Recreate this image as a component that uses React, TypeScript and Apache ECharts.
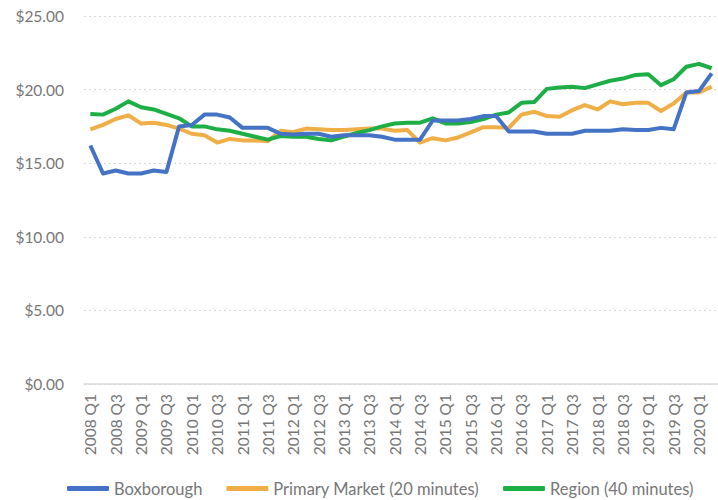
import React, { useEffect, useRef } from "react";
import * as echarts from "echarts";

const years = [2008, 2009, 2010, 2011, 2012, 2013, 2014, 2015, 2016, 2017, 2018, 2019, 2020];
const categories: string[] = [];
years.forEach((y) => ["Q1", "Q2", "Q3", "Q4"].forEach((q) => categories.push(`${y} ${q}`)));
categories.splice(50);

const boxborough = [
  16.2, 14.3, 14.5, 14.3, 14.3, 14.5, 14.4, 17.5, 17.6, 18.3,
  18.3, 18.1, 17.4, 17.4, 17.4, 17.0, 16.95, 17.0, 17.0, 16.8,
  16.9, 16.9, 16.9, 16.8, 16.6, 16.6, 16.6, 17.9, 17.9, 17.9,
  18.0, 18.2, 18.2, 17.15, 17.15, 17.15, 17.0, 17.0, 17.0, 17.2,
  17.2, 17.2, 17.3, 17.25, 17.25, 17.4, 17.3, 19.8, 19.9, 21.1,
];
const primaryMarket = [
  17.3, 17.6, 18.0, 18.25, 17.7, 17.75, 17.6, 17.35, 17.0, 16.9,
  16.4, 16.65, 16.55, 16.55, 16.5, 17.2, 17.1, 17.35, 17.3, 17.25,
  17.25, 17.3, 17.35, 17.35, 17.2, 17.25, 16.4, 16.7, 16.55, 16.75,
  17.1, 17.45, 17.45, 17.4, 18.3, 18.5, 18.2, 18.15, 18.6, 18.95,
  18.65, 19.2, 19.0, 19.1, 19.1, 18.55, 19.05, 19.8, 19.8, 20.2,
];
const region = [
  18.35, 18.3, 18.7, 19.2, 18.8, 18.65, 18.35, 18.05, 17.5, 17.5,
  17.3, 17.2, 17.0, 16.8, 16.6, 16.85, 16.8, 16.8, 16.65, 16.55,
  16.8, 17.05, 17.25, 17.5, 17.7, 17.75, 17.75, 18.05, 17.7, 17.7,
  17.8, 18.0, 18.3, 18.45, 19.1, 19.15, 20.05, 20.15, 20.2, 20.1,
  20.35, 20.6, 20.75, 21.0, 21.05, 20.3, 20.7, 21.55, 21.75, 21.45,
];

const seriesNames = ["Boxborough", "Primary Market (20 minutes)", "Region (40 minutes)"];
const colors = ["#4472C4", "#F0AE47", "#1DAF45"];

export default function App() {
  const ref = useRef<HTMLDivElement>(null);
  useEffect(() => {
    if (!ref.current) return;
    const chart = echarts.init(ref.current, undefined, { renderer: "svg" });
    const font = "Lato, 'Open Sans', sans-serif";
    const textColor = "#777777";
    const dataSets = [boxborough, primaryMarket, region];
    chart.setOption({
      animation: false,
      textStyle: { fontFamily: font },
      grid: { left: 84, right: -7, top: 16, bottom: 116, containLabel: false },
      legend: {
        left: 62,
        top: 475,
        itemWidth: 42,
        itemHeight: 5,
        itemGap: 24,
        icon: "roundRect",
        textStyle: { fontSize: 16.5, color: textColor, fontFamily: font },
        data: seriesNames,
      },
      xAxis: {
        type: "category",
        data: categories,
        boundaryGap: true,
        axisLine: { lineStyle: { color: "#D9D9D9", width: 1.5 } },
        axisTick: { show: false },
        axisLabel: {
          interval: 1,
          rotate: 90,
          fontSize: 15.5,
          color: textColor,
          fontFamily: font,
          margin: 10,
        },
      },
      yAxis: {
        type: "value",
        min: 0,
        max: 25,
        interval: 5,
        axisLine: { show: false },
        axisTick: { show: false },
        splitLine: { lineStyle: { color: "#D9D9D9", type: [2, 3], width: 1 } },
        axisLabel: {
          fontSize: 15.5,
          color: textColor,
          fontFamily: font,
          margin: 20,
          formatter: (v: number) => "$" + v.toFixed(2),
        },
      },
      series: dataSets.map((d, i) => ({
        name: seriesNames[i],
        type: "line",
        data: d,
        symbol: "none",
        lineStyle: { width: 4, color: colors[i], join: "round" },
        itemStyle: { color: colors[i] },
        z: i === 0 ? 3 : 2,
      })),
    });
    return () => chart.dispose();
  }, []);
  return <div ref={ref} style={{ width: 718, height: 500, position: "absolute", left: 0, top: 0 }} />;
}
